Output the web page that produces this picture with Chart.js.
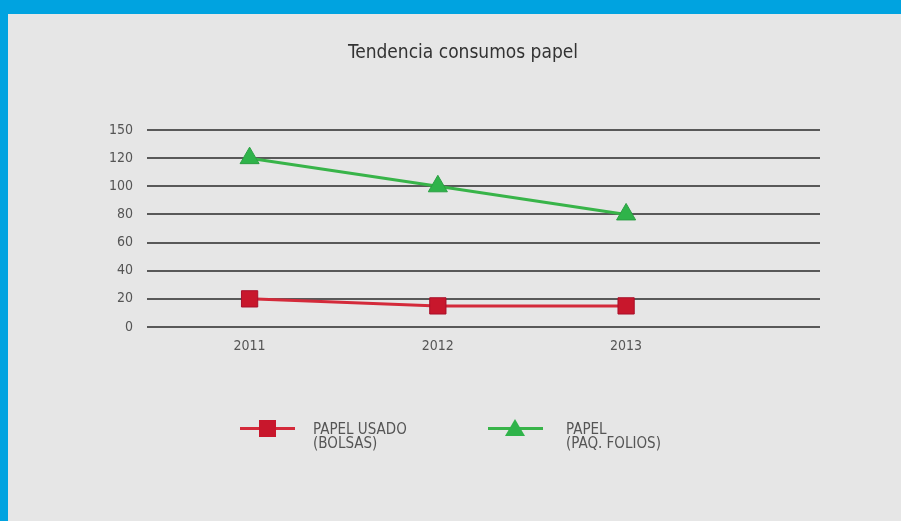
<!DOCTYPE html>
<html>
<head>
<meta charset="utf-8">
<script src="https://cdn.jsdelivr.net/npm/chart.js@4.4.0/dist/chart.umd.min.js"></script>
<style>
    body { margin: 0; width: 901px; height: 521px; background: #00a3e0; overflow: hidden; }
    #caja { position: absolute; left: 8px; top: 14px; width: 893px; height: 507px; background: #e6e6e6; }
    #grafico { position: absolute; left: 0; top: 0; }
    #titulo { position: absolute; left: 255px; width: 400px; top: 26px; text-align: center; font-family: "DejaVu Sans Condensed", sans-serif; font-size: 19px; color: #333; }
    .leyenda { position: absolute; top: 403px; font-family: "DejaVu Sans Condensed", sans-serif; font-size: 15px; line-height: 14px; color: #555; }
    .linea { position: absolute; top: 10px; height: 3px; }
    .marca { position: absolute; }
    .texto { position: absolute; top: 5px; white-space: nowrap; }
</style>
</head>
<body>
<div id="caja">
    <canvas id="grafico" width="893" height="507"></canvas>
    <div id="titulo">Tendencia consumos papel</div>
</div>
<script>
// datos
let anos = [2011, 2012, 2013];
let papelUsado = [20, 15, 15];
let papelFolios = [120, 100, 80];
let etiquetasY = ['0', '20', '40', '60', '80', '100', '120', '150'];
let nombres = [['PAPEL USADO', '(BOLSAS)'], ['PAPEL', '(PAQ. FOLIOS)']];

let rojo = '#c8172c';
let verde = '#38b449';

function puntos(valores) {
    let lista = [];
    for (let i = 0; i < anos.length; i++) {
        lista.push({ x: anos[i], y: valores[i] });
    }
    return lista;
}

const ctx = document.getElementById('grafico');
new Chart(ctx, {
    type: 'line',
    data: {
        datasets: [{
            label: nombres[0].join(' '),
            data: puntos(papelUsado),
            borderColor: '#d42a3a',
            backgroundColor: rojo,
            borderWidth: 3,
            pointStyle: 'rect',
            pointRadius: 11.5,
            pointBorderColor: '#a8102a',
            pointBorderWidth: 1
        }, {
            label: nombres[1].join(' '),
            data: puntos(papelFolios),
            borderColor: verde,
            backgroundColor: '#2fb34a',
            borderWidth: 3,
            pointStyle: 'triangle',
            pointRadius: 11,
            pointBorderColor: '#2a9f42',
            pointBorderWidth: 1
        }]
    },
    options: {
        responsive: false,
        animation: false,
        layout: { padding: { top: 116, right: 81, bottom: 0, left: 0 } },
        plugins: {
            legend: { display: false },
            tooltip: { enabled: false },
            title: { display: false }
        },
        scales: {
            x: {
                type: 'linear',
                min: 2010.455,
                max: 2014.03,
                border: { display: false },
                grid: { display: false },
                afterFit: function (scale) { scale.height = 194; },
                ticks: {
                    stepSize: 1,
                    includeBounds: false,
                    padding: 3,
                    color: '#555',
                    font: { family: '"DejaVu Sans Condensed", sans-serif', size: 14 },
                    callback: function (v) { return anos.includes(v) ? String(v) : ''; }
                }
            },
            y: {
                min: 0,
                max: 140,
                border: { display: false },
                grid: { color: '#595959', lineWidth: 2, drawTicks: false },
                afterFit: function (scale) { scale.width = 139; },
                ticks: {
                    stepSize: 20,
                    padding: 14,
                    color: '#555',
                    font: { family: '"DejaVu Sans Condensed", sans-serif', size: 14 },
                    callback: function (v, i) { return etiquetasY[i]; }
                }
            }
        }
    }
});

// leyenda
let caja = document.getElementById('caja');
let posiciones = [232, 480];
let colores = [[rojo, '#d42a3a'], ['#2fb34a', verde]];
for (let i = 0; i < nombres.length; i++) {
    let item = document.createElement('div');
    item.className = 'leyenda';
    item.style.left = posiciones[i] + 'px';
    let linea = document.createElement('div');
    linea.className = 'linea';
    linea.style.left = '0px';
    linea.style.width = '55px';
    linea.style.background = colores[i][1];
    item.appendChild(linea);
    let marca = document.createElement('div');
    marca.className = 'marca';
    if (i == 0) {
        marca.style.left = '19px';
        marca.style.top = '3px';
        marca.style.width = '17px';
        marca.style.height = '17px';
        marca.style.background = colores[i][0];
    } else {
        marca.style.left = '17px';
        marca.style.top = '2px';
        marca.style.width = '0';
        marca.style.height = '0';
        marca.style.borderLeft = '10px solid transparent';
        marca.style.borderRight = '10px solid transparent';
        marca.style.borderBottom = '17px solid ' + colores[i][0];
    }
    item.appendChild(marca);
    let texto = document.createElement('div');
    texto.className = 'texto';
    texto.style.left = (i == 0 ? 73 : 78) + 'px';
    texto.innerHTML = nombres[i][0] + '<br>' + nombres[i][1];
    item.appendChild(texto);
    caja.appendChild(item);
}
</script>
</body>
</html>
